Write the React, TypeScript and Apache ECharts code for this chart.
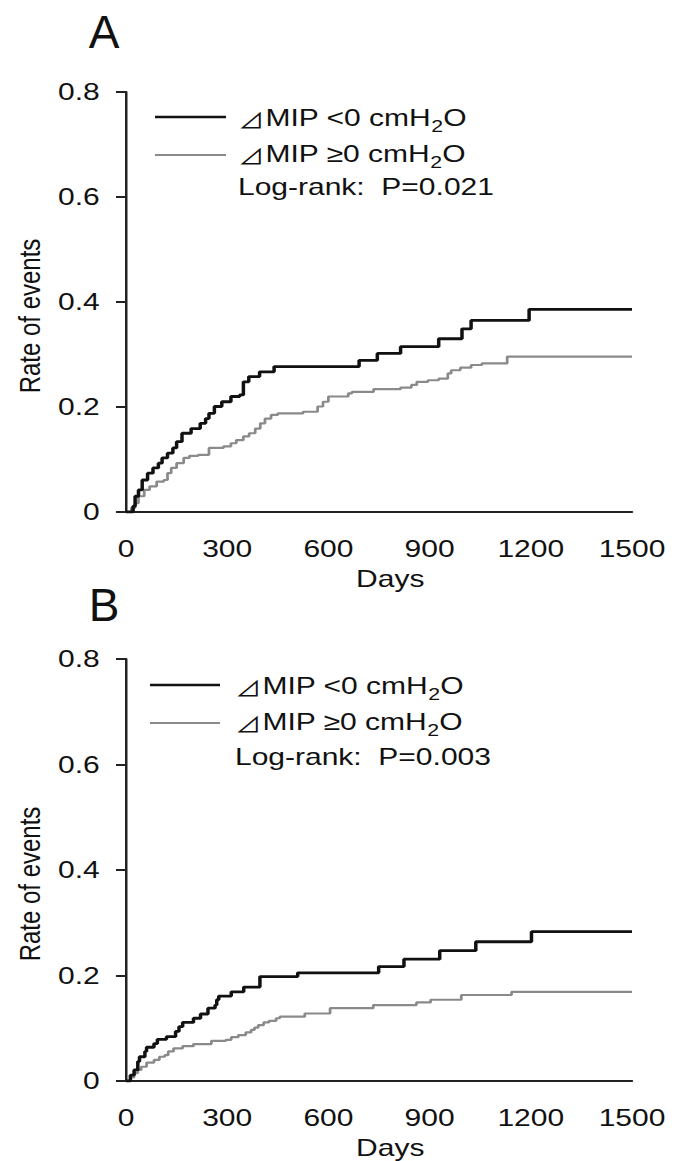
import React, { useEffect, useRef } from "react";
import * as echarts from "echarts";

// The reference figure is horizontally stretched; we draw at a narrower width and stretch it back.
const STRETCH = 1.25;
const PAGE_W = 679;
const PAGE_H = 1161;
const INNER_W = PAGE_W / STRETCH;

const FONT = "'Liberation Sans', Arial, 'Noto Sans CJK JP', 'DejaVu Sans', sans-serif";
const SYM_FONT = "'Noto Sans CJK JP', 'DejaVu Sans', sans-serif";

// ---- axes ----
const xTicks = [0, 300, 600, 900, 1200, 1500];
const yTicks = [0, 0.2, 0.4, 0.6, 0.8];
const xName = "Days";
const yName = "Rate of events";
const panelLabels = ["A", "B"];
const legendLt = "⊿MIP <0 cmH₂O";
const legendGe = "⊿MIP ≥0 cmH₂O";
const legendLtRich = "{d|⊿}{n|MIP <0 cmH}{s|2}{n|O}";
const legendGeRich = "{d|⊿}{n|MIP ≥0 cmH}{s|2}{n|O}";
const logRank = ["Log-rank:  P=0.021", "Log-rank:  P=0.003"];

// ---- Panel A ----
const daysA_lt = [0, 21, 27, 37, 48, 64, 80, 96, 107, 123, 139, 150, 166, 193, 220, 236, 246, 262, 284, 311, 337, 348, 364, 396, 439, 691, 745, 814, 927, 996, 1023, 1195, 1500];
const rateA_lt = [0, 0.011, 0.03, 0.042, 0.061, 0.074, 0.084, 0.093, 0.103, 0.112, 0.122, 0.134, 0.15, 0.159, 0.169, 0.178, 0.188, 0.201, 0.21, 0.22, 0.223, 0.248, 0.258, 0.267, 0.277, 0.289, 0.302, 0.315, 0.33, 0.349, 0.365, 0.386, 0.386];

const daysA_ge = [0, 16, 27, 37, 54, 70, 91, 112, 123, 134, 150, 171, 188, 214, 246, 289, 311, 327, 348, 365, 383, 398, 412, 430, 450, 525, 568, 584, 600, 659, 670, 734, 814, 846, 862, 895, 927, 954, 964, 991, 1023, 1055, 1130, 1500];
const rateA_ge = [0, 0.008, 0.017, 0.03, 0.042, 0.049, 0.058, 0.061, 0.074, 0.084, 0.093, 0.103, 0.107, 0.109, 0.122, 0.125, 0.131, 0.137, 0.144, 0.15, 0.159, 0.169, 0.178, 0.185, 0.188, 0.191, 0.201, 0.21, 0.22, 0.226, 0.229, 0.234, 0.237, 0.242, 0.248, 0.251, 0.254, 0.264, 0.27, 0.275, 0.28, 0.283, 0.296, 0.296];

// ---- Panel B ----
const daysB_lt = [0, 13, 24, 35, 40, 56, 61, 83, 93, 120, 147, 157, 168, 200, 221, 243, 264, 269, 275, 312, 349, 397, 509, 749, 824, 930, 1037, 1202, 1500];
const rateB_lt = [0, 0.011, 0.021, 0.037, 0.046, 0.056, 0.064, 0.071, 0.079, 0.084, 0.094, 0.103, 0.111, 0.119, 0.127, 0.138, 0.144, 0.154, 0.161, 0.169, 0.178, 0.198, 0.205, 0.217, 0.231, 0.247, 0.264, 0.283, 0.283];

const daysB_ge = [0, 13, 24, 35, 45, 61, 83, 99, 115, 125, 141, 168, 200, 253, 296, 312, 333, 355, 371, 381, 392, 408, 424, 445, 456, 530, 605, 733, 861, 903, 994, 1143, 1500];
const rateB_ge = [0, 0.007, 0.015, 0.021, 0.027, 0.035, 0.04, 0.046, 0.049, 0.056, 0.062, 0.066, 0.07, 0.076, 0.078, 0.083, 0.087, 0.092, 0.097, 0.101, 0.106, 0.111, 0.114, 0.119, 0.122, 0.128, 0.138, 0.144, 0.149, 0.154, 0.163, 0.169, 0.169];

const zip = (d: number[], r: number[]) => d.map((x, i) => [x, r[i]]);

const BLACK = "#111111";
const GRAY = "#8a8a8a";
const AXIS = "#222222";

export default function App() {
  const ref = useRef<HTMLDivElement>(null);

  useEffect(() => {
    if (!ref.current) return;
    const chart = echarts.init(ref.current, null, { renderer: "svg" });

    const grids = [
      { left: 126 / STRETCH, top: 92, width: 506 / STRETCH, height: 420 },
      { left: 126 / STRETCH, top: 659, width: 506 / STRETCH, height: 422 },
    ];

    const xAxes = grids.map((_, i) => ({
      type: "value",
      gridIndex: i,
      min: xTicks[0],
      max: xTicks[xTicks.length - 1],
      interval: xTicks[1] - xTicks[0],
      axisLine: { show: true, lineStyle: { color: AXIS, width: 2 } },
      axisTick: { show: false },
      splitLine: { show: false },
      axisLabel: { fontSize: 24, color: "#111", margin: 25, fontFamily: FONT, formatter: (v: number) => String(v) },
      name: xName,
      nameLocation: "middle",
      nameGap: 55,
      nameTextStyle: { fontSize: 24, color: "#111", fontFamily: FONT, padding: [0, 0, 0, 18] },
    }));

    const yAxes = grids.map((_, i) => ({
      type: "value",
      gridIndex: i,
      min: yTicks[0],
      max: yTicks[yTicks.length - 1],
      interval: yTicks[1] - yTicks[0],
      axisLine: { show: true, lineStyle: { color: AXIS, width: 2 } },
      axisTick: { show: true, length: 8, lineStyle: { color: AXIS, width: 2 } },
      splitLine: { show: false },
      axisLabel: { fontSize: 24, color: "#111", margin: 21, fontFamily: FONT },
      name: yName,
      nameLocation: "middle",
      nameRotate: 90,
      nameGap: 58,
      nameTextStyle: { fontSize: 24, color: "#111", fontFamily: FONT, padding: [0, 28, 0, 0] },
    }));

    const mk = (name: string, d: number[], r: number[], idx: number, color: string, width: number) => ({
      name,
      type: "line",
      step: "end",
      xAxisIndex: idx,
      yAxisIndex: idx,
      data: zip(d, r),
      showSymbol: false,
      symbol: "none",
      lineStyle: { color, width },
      itemStyle: { color },
    });

    const rich = {
      n: { fontSize: 24, fontFamily: FONT, lineHeight: 34, verticalAlign: "middle", fill: "#111", color: "#111" },
      d: { fontSize: 21, fontFamily: SYM_FONT, lineHeight: 34, verticalAlign: "middle", fill: "#111", color: "#111", padding: [2, 1, 0, 0] },
      s: { fontSize: 17, fontFamily: FONT, lineHeight: 34, verticalAlign: "bottom", fill: "#111", color: "#111" },
    };

    const legendBlock = (lx1: number, lx2: number, tx: number, y1: number, y2: number, y3: number, p: string) => [
      { type: "line", shape: { x1: lx1 / STRETCH, y1, x2: lx2 / STRETCH, y2: y1 }, style: { stroke: BLACK, lineWidth: 2.6 } },
      { type: "text", x: tx / STRETCH, y: y1 + 1, style: { text: legendLtRich, rich, font: `24px ${FONT}`, fill: "#111", align: "left", verticalAlign: "middle" } },
      { type: "line", shape: { x1: lx1 / STRETCH, y1: y2, x2: lx2 / STRETCH, y2: y2 }, style: { stroke: GRAY, lineWidth: 2.2 } },
      { type: "text", x: tx / STRETCH, y: y2 - 1, style: { text: legendGeRich, rich, font: `24px ${FONT}`, fill: "#111", align: "left", verticalAlign: "middle" } },
      { type: "text", x: tx / STRETCH, y: y3, style: { text: p, font: `24px ${FONT}`, fill: "#111", align: "left", verticalAlign: "middle" } },
    ];

    const panelLetter = (t: string, y: number) => ({
      type: "text",
      x: 104 / STRETCH,
      y,
      scaleX: 1 / STRETCH,
      style: { text: t, font: `46px ${FONT}`, fill: "#111", align: "center", verticalAlign: "middle" },
    });

    chart.setOption({
      animation: false,
      textStyle: { fontFamily: FONT },
      grid: grids,
      xAxis: xAxes,
      yAxis: yAxes,
      series: [
        mk(legendGe, daysA_ge, rateA_ge, 0, GRAY, 2.2),
        mk(legendLt, daysA_lt, rateA_lt, 0, BLACK, 2.8),
        mk(legendGe, daysB_ge, rateB_ge, 1, GRAY, 2.2),
        mk(legendLt, daysB_lt, rateB_lt, 1, BLACK, 2.8),
      ],
      graphic: [
        panelLetter(panelLabels[0], 32),
        panelLetter(panelLabels[1], 605),
        ...legendBlock(155, 226, 238, 117, 155, 187, logRank[0]),
        ...legendBlock(150, 220, 235, 685, 723, 757, logRank[1]),
      ],
    });

    return () => chart.dispose();
  }, []);

  return (
    <div
      ref={ref}
      style={{
        position: "absolute",
        left: 0,
        top: 0,
        width: INNER_W,
        height: PAGE_H,
        transform: `scaleX(${STRETCH})`,
        transformOrigin: "0 0",
        background: "#fff",
      }}
    />
  );
}
